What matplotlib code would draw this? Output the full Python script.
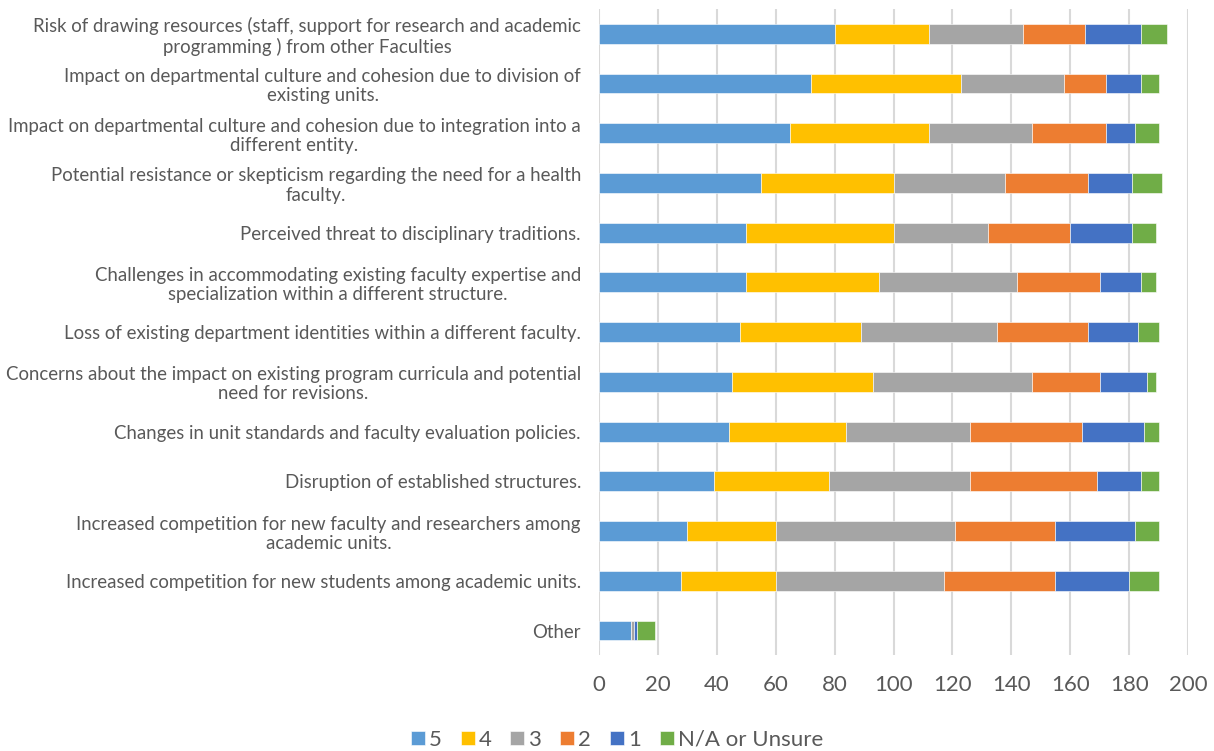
import matplotlib
matplotlib.use("Agg")
import matplotlib.pyplot as plt
import numpy as np

plt.rcParams['font.family'] = ['Lato', 'DejaVu Sans']

categories = [
    "Risk of drawing resources (staff, support for research and academic\nprogramming ) from other Faculties",
    "Impact on departmental culture and cohesion due to division of\nexisting units.",
    "Impact on departmental culture and cohesion due to integration into a\ndifferent entity.",
    "Potential resistance or skepticism regarding the need for a health\nfaculty.",
    "Perceived threat to disciplinary traditions.",
    "Challenges in accommodating existing faculty expertise and\nspecialization within a different structure.",
    "Loss of existing department identities within a different faculty.",
    "Concerns about the impact on existing program curricula and potential\nneed for revisions.",
    "Changes in unit standards and faculty evaluation policies.",
    "Disruption of established structures.",
    "Increased competition for new faculty and researchers among\nacademic units.",
    "Increased competition for new students among academic units.",
    "Other",
]

series_names = ["5", "4", "3", "2", "1", "N/A or Unsure"]
series_colors = ["#5B9BD5", "#FFC000", "#A5A5A5", "#ED7D31", "#4472C4", "#70AD47"]

s5 = [80, 72, 65, 55, 50, 50, 48, 45, 44, 39, 30, 28, 11]
s4 = [32, 51, 47, 45, 50, 45, 41, 48, 40, 39, 30, 32, 0]
s3 = [32, 35, 35, 38, 32, 47, 46, 54, 42, 48, 61, 57, 1]
s2 = [21, 14, 25, 28, 28, 28, 31, 23, 38, 43, 34, 38, 0]
s1 = [19, 12, 10, 15, 21, 14, 17, 16, 21, 15, 27, 25, 1]
s_na = [9, 6, 8, 10, 8, 5, 7, 3, 5, 6, 8, 10, 6]

xticks = [0, 20, 40, 60, 80, 100, 120, 140, 160, 180, 200]

fig = plt.figure(figsize=(12.14, 7.51), dpi=100)
ax = fig.add_axes([0.4934, 0.1273, 0.4852, 0.8609])

y = np.arange(len(categories))
left = np.zeros(len(categories))
for name, vals, col in zip(series_names, [s5, s4, s3, s2, s1, s_na], series_colors):
    ax.barh(y, vals, left=left, height=0.4, color=col, label=name,
            edgecolor='white', linewidth=0.4, zorder=3)
    left += np.array(vals)

ax.set_ylim(len(categories) - 0.5, -0.5)
ax.set_xlim(0, 200)
ax.set_xticks(xticks)
ax.set_yticks(y)
ax.set_yticklabels(categories)
for lab in ax.get_yticklabels():
    lab.set_multialignment('center')
    lab.set_linespacing(1.15)

ax.grid(axis='x', color='#D9D9D9', linewidth=1.5, zorder=0)
for sp in ax.spines.values():
    sp.set_visible(False)
ax.tick_params(axis='y', length=0, pad=13, labelsize=13.4, labelcolor='#595959')
ax.tick_params(axis='x', length=0, pad=14, labelsize=16, labelcolor='#595959')

leg = ax.legend(loc='center', bbox_to_anchor=(617 / 1214, 1 - 740 / 751),
                bbox_transform=fig.transFigure, ncol=6, frameon=False,
                fontsize=16, handlelength=0.63, handleheight=0.63,
                handletextpad=0.18, columnspacing=0.85, borderpad=0)
for t in leg.get_texts():
    t.set_color('#595959')

fig.savefig("out.png", dpi=100)
